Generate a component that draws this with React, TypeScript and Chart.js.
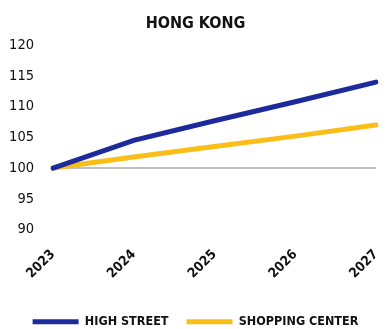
import React, { useEffect, useRef } from "react";
import { Chart, registerables } from "chart.js";

Chart.register(...registerables);

const years = ["2023", "2024", "2025", "2026", "2027"];
const highStreet = [100, 104.5, 107.7, 110.8, 114];
const shoppingCenter = [100, 101.8, 103.5, 105.2, 107];
const titleText = "HONG KONG";
const FONT = "'Liberation Sans Narrow', 'DejaVu Sans Condensed', 'Roboto', sans-serif";

export default function App() {
  const ref = useRef<HTMLCanvasElement | null>(null);
  useEffect(() => {
    if (!ref.current) return;
    const chart = new Chart(ref.current, {
      type: "line",
      data: {
        labels: years,
        datasets: [
          {
            label: "HIGH STREET",
            data: highStreet,
            borderColor: "#1c2a9c",
            backgroundColor: "#1c2a9c",
            borderWidth: 5,
            pointRadius: 0,
            tension: 0,
            borderCapStyle: "round",
          },
          {
            label: "SHOPPING CENTER",
            data: shoppingCenter,
            borderColor: "#fbbd18",
            backgroundColor: "#fbbd18",
            borderWidth: 5,
            pointRadius: 0,
            tension: 0,
            borderCapStyle: "round",
          },
        ],
      },
      options: {
        animation: false,
        responsive: true,
        maintainAspectRatio: false,
        layout: { padding: { left: 0, right: 0, top: 0, bottom: 0 } },
        plugins: {
          title: {
            display: true,
            text: titleText,
            color: "#111",
            font: { family: FONT, size: 16, weight: "bold" },
            padding: { top: 6, bottom: 12 },
          },
          legend: {
            position: "bottom",
            labels: {
              usePointStyle: true,
              pointStyle: "line",
              pointStyleWidth: 46,
              boxHeight: 5,
              color: "#111",
              font: { family: FONT, size: 12.5, weight: "bold" },
              padding: 18,
            },
          },
          tooltip: { enabled: false },
        },
        scales: {
          x: {
            grid: { display: false },
            border: { display: false },
            afterFit: (scale: any) => {
              scale.paddingLeft = 0;
              scale.paddingRight = 7;
              scale.height = 68;
            },
            ticks: {
              minRotation: 45,
              maxRotation: 45,
              color: "#111",
              font: { family: FONT, size: 13.5, weight: "bold" },
              padding: 9,
            },
          },
          y: {
            min: 90,
            max: 120,
            afterFit: (scale: any) => {
              scale.width = 45;
            },
            grid: {
              color: (ctx: any) => (ctx.tick && ctx.tick.value === 100 ? "#c0c0c0" : "rgba(0,0,0,0)"),
              lineWidth: 2,
              drawTicks: false,
            },
            border: { display: false },
            ticks: {
              stepSize: 5,
              color: "#111",
              font: { family: FONT, size: 14.5 },
              padding: 19,
            },
          },
        },
      },
    });
    return () => chart.destroy();
  }, []);
  return (
    <div style={{ width: 375, height: 330 }}>
      <canvas ref={ref} />
    </div>
  );
}
